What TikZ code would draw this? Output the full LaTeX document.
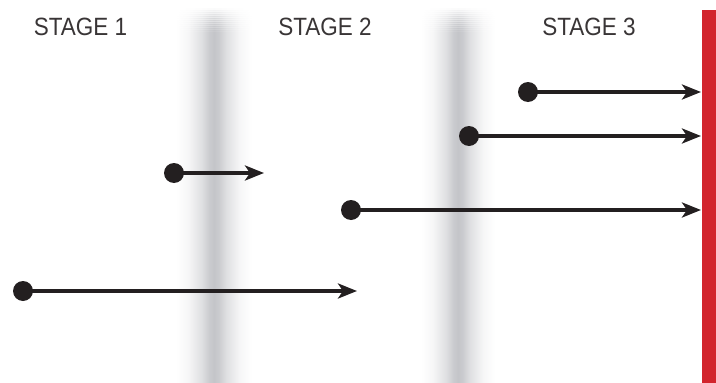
\documentclass[tikz,border=0pt]{standalone}
\usepackage{fontspec}
\newfontfamily\stagefont[FakeStretch=0.9]{Liberation Sans}
\usetikzlibrary{arrows.meta}
\definecolor{ink}{RGB}{35,31,32}
\definecolor{redbar}{RGB}{210,37,45}
\definecolor{bandgray}{RGB}{196,197,201}
\pgfdeclarehorizontalshading{bandshade}{100bp}{color(0bp)=(white); color(25bp)=(white); color(33bp)=(bandgray!15); color(42bp)=(bandgray!55); color(47bp)=(bandgray!90); color(50bp)=(bandgray); color(53bp)=(bandgray!90); color(58bp)=(bandgray!55); color(67bp)=(bandgray!15); color(75bp)=(white); color(100bp)=(white)}
\tikzset{
  stage/.style={font=\stagefont\fontsize{25pt}{28pt}\selectfont, text=ink!90, inner sep=0pt, anchor=base},
  dot/.style={circle, fill=ink, inner sep=0pt, minimum size=20pt},
  arr/.style={draw=ink, line width=4.8pt, -{Stealth[length=19pt, width=15pt, inset=5pt]}},
  band/.style={shading=bandshade},
}
\begin{document}
\begin{tikzpicture}[x=1pt,y=-1pt]
\useasboundingbox (0,0) rectangle (716,383);
% grey blurred bands (soft top edge built from slices)
\foreach \xa/\xb in {176/252, 421/495}{
  \foreach \i in {1,...,12}{
    \path[band, fill opacity=\i/13] (\xa,{8+2*(\i-1)}) rectangle (\xb,{8+2*\i+0.3});
  }
  \path[band] (\xa,32) rectangle (\xb,383);
}
% red bar
\fill[redbar] (702,10) rectangle (716,383);
% stage labels
\node[stage] (s1) at (80.5,35) {STAGE 1};
\node[stage] (s2) at (325,35) {STAGE 2};
\node[stage] (s3) at (589,35) {STAGE 3};
% arrows
\node[dot] (d1) at (528,92) {};
\coordinate (e1) at (701,92);
\node[dot] (d2) at (469,136) {};
\coordinate (e2) at (701,136);
\node[dot] (d3) at (174,173) {};
\coordinate (e3) at (264,173);
\node[dot] (d4) at (351,210) {};
\coordinate (e4) at (701,210);
\node[dot] (d5) at (23,291) {};
\coordinate (e5) at (357,291);
\draw[arr] (d1.center) -- (e1);
\draw[arr] (d2.center) -- (e2);
\draw[arr] (d3.center) -- (e3);
\draw[arr] (d4.center) -- (e4);
\draw[arr] (d5.center) -- (e5);
\end{tikzpicture}
\end{document}
